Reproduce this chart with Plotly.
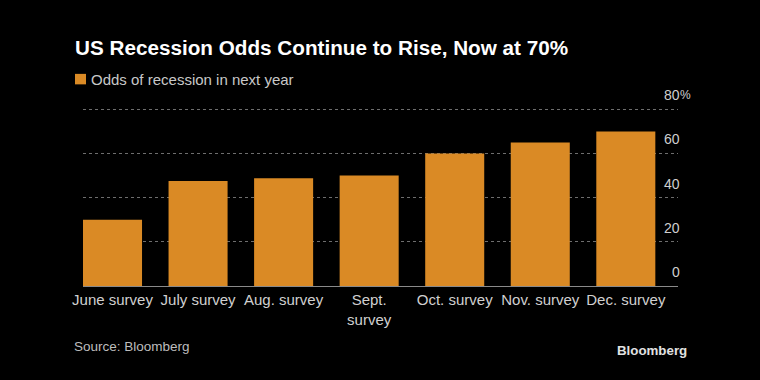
import plotly.graph_objects as go

# ---- data ----
categories = ["June survey", "July survey", "Aug. survey", "Sept.<br>survey",
              "Oct. survey", "Nov. survey", "Dec. survey"]
odds = [30, 47.5, 48.8, 50, 60, 65, 70]
y_ticks = [0, 20, 40, 60, 80]
y_tick_labels = ["0", "20", "40", "60", "80"]
series_name = "Odds of recession in next year"
title_text = "US Recession Odds Continue to Rise, Now at 70%"
source_text = "Source: Bloomberg"
logo_text = "Bloomberg"

# ---- layout geometry (pixels) ----
W, H = 760, 380
L, R, B = 83, 678, 286
Y_MAX = 81.5
T = B - (B - 109) * Y_MAX / 80.0  # so that the 80 gridline sits at 109px
BAR = "#DA8A25"
FONT = "Liberation Sans, Arial, sans-serif"


def px_x(px):
    return (px - L) / (R - L)


def px_y(py):
    return (B - py) / (B - T)


fig = go.Figure()
fig.add_trace(go.Bar(
    x=categories, y=odds, name=series_name,
    marker=dict(color=BAR, line=dict(width=0)),
    width=0.69, showlegend=False, hoverinfo="x+y",
))

annotations = []
annotations.append(dict(text="<b>" + title_text + "</b>", xref="paper", yref="paper",
                        x=px_x(73), y=px_y(47.5), xanchor="left", yanchor="middle",
                        showarrow=False, font=dict(family=FONT, size=20.7, color="#ffffff")))
annotations.append(dict(text=series_name, xref="paper", yref="paper",
                        x=px_x(89), y=px_y(79), xanchor="left", yanchor="middle",
                        showarrow=False, font=dict(family=FONT, size=15, color="#c8c8c8")))
for v, lab in zip(y_ticks, y_tick_labels):
    annotations.append(dict(text=lab, xref="paper", yref="y", x=px_x(681), y=v,
                            yshift=14, xanchor="right", yanchor="middle", showarrow=False,
                            borderpad=0, font=dict(family=FONT, size=14, color="#cfcfcf")))
annotations.append(dict(text="%", xref="paper", yref="y", x=px_x(679), y=y_ticks[-1],
                        yshift=14, xanchor="left", yanchor="middle", showarrow=False,
                        borderpad=0, font=dict(family=FONT, size=12, color="#cfcfcf")))
annotations.append(dict(text=source_text, xref="paper", yref="paper",
                        x=px_x(72), y=px_y(347), xanchor="left", yanchor="middle",
                        showarrow=False, font=dict(family=FONT, size=13.5, color="#bdbdbd")))
annotations.append(dict(text="<b>" + logo_text + "</b>", xref="paper", yref="paper",
                        x=px_x(689), y=px_y(351), xanchor="right", yanchor="middle",
                        showarrow=False, font=dict(family=FONT, size=13.3, color="#e2e2e2")))

fig.update_layout(
    width=W, height=H,
    margin=dict(l=L, r=W - R, t=T, b=H - B, pad=0),
    paper_bgcolor="#000000", plot_bgcolor="#000000",
    font=dict(family=FONT, color="#d0d0d0"),
    annotations=annotations,
    shapes=[dict(type="rect", xref="paper", yref="paper",
                 x0=px_x(75), x1=px_x(86), y0=px_y(84), y1=px_y(73.5),
                 fillcolor=BAR, line=dict(width=0))],
    xaxis=dict(
        type="category", range=[-0.345, 6.61],
        showgrid=False, zeroline=False,
        showline=True, linecolor="#8a8a8a", linewidth=1,
        ticks="", tickfont=dict(family=FONT, size=15, color="#d0d0d0"),
    ),
    yaxis=dict(
        range=[0, Y_MAX], tickvals=y_ticks, showticklabels=False,
        showgrid=True, gridcolor="#6e6e6e", griddash="dot", gridwidth=1,
        zeroline=False, showline=False, ticks="",
    ),
    bargap=0.31,
)

fig.write_html("out.html", config={"displayModeBar": False},
               post_script="document.body.style.margin='0';document.body.style.background='#000';")
